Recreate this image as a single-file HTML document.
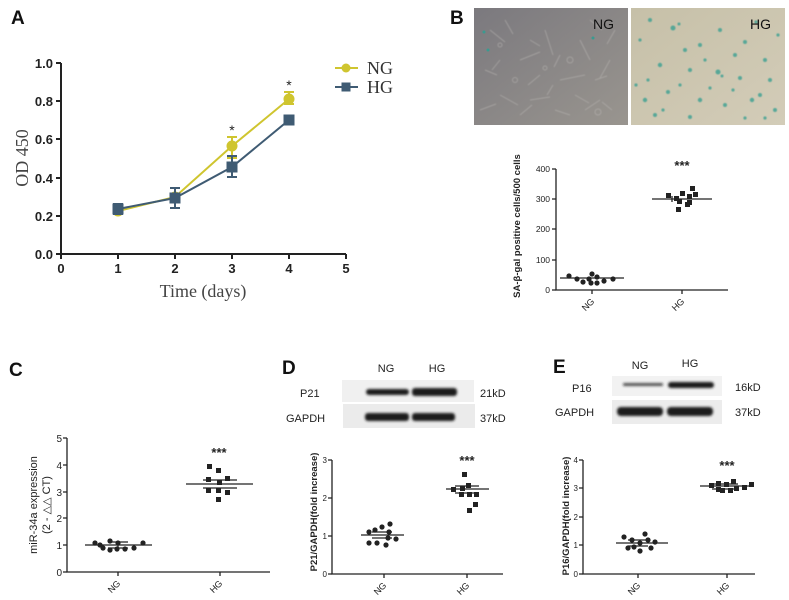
<!DOCTYPE html>
<html><head><meta charset="utf-8"><style>
html,body{margin:0;padding:0;background:#fff;}
svg{display:block;font-family:"Liberation Sans",Arial,sans-serif;}
</style></head><body>
<svg width="789" height="600" viewBox="0 0 789 600" xmlns="http://www.w3.org/2000/svg">
<defs>
<linearGradient id="ngbg" x1="0" y1="0" x2="1" y2="1"><stop offset="0" stop-color="#7b797e"/><stop offset="1" stop-color="#99958f"/></linearGradient>
<linearGradient id="hgbg" x1="0" y1="0" x2="1" y2="1"><stop offset="0" stop-color="#c6c0a8"/><stop offset="1" stop-color="#d3ccb8"/></linearGradient>
<filter id="bl"><feGaussianBlur stdDeviation="1.2"/></filter>
<filter id="bl2"><feGaussianBlur stdDeviation="0.6"/></filter>
</defs>

<g font-weight="bold" font-size="19" fill="#111">
<text x="11" y="24">A</text>
<text x="450" y="24">B</text>
<text x="9" y="376">C</text>
<text x="282" y="374">D</text>
<text x="553" y="373">E</text>
</g>

<!-- ===== Panel A ===== -->
<g stroke="#222" stroke-width="2" fill="none">
<path d="M61,63 V254 H346"/>
<path d="M56,63H61M56,101H61M56,139H61M56,178H61M56,216H61M56,254H61"/>
<path d="M61,254v5M118,254v5M175,254v5M232,254v5M289,254v5M346,254v5"/>
</g>
<g font-size="13" font-weight="bold" fill="#222" text-anchor="end">
<text x="53" y="68">1.0</text><text x="53" y="106">0.8</text><text x="53" y="144">0.6</text>
<text x="53" y="183">0.4</text><text x="53" y="221">0.2</text><text x="53" y="259">0.0</text>
</g>
<g font-size="13" font-weight="bold" fill="#222" text-anchor="middle">
<text x="61" y="273">0</text><text x="118" y="273">1</text><text x="175" y="273">2</text>
<text x="232" y="273">3</text><text x="289" y="273">4</text><text x="346" y="273">5</text>
</g>
<text x="203" y="297" font-family="Liberation Serif,serif" font-size="18" fill="#444" text-anchor="middle">Time (days)</text>
<text transform="translate(28,158) rotate(-90)" font-family="Liberation Serif,serif" font-size="18" fill="#444" text-anchor="middle">OD 450</text>
<g stroke="#cfc52f" stroke-width="2" fill="#cfc52f">
<polyline fill="none" points="118,211 175,197 232,146 289,99"/>
<path d="M232,137V158M227,137h10M227,158h10M289,92V104M284,92h10M284,104h10" fill="none"/>
<circle cx="118" cy="211" r="4.5"/><circle cx="175" cy="197" r="4.5"/><circle cx="232" cy="146" r="4.5"/><circle cx="289" cy="99" r="4.5"/>
</g>
<g stroke="#3f5b73" stroke-width="2" fill="#3f5b73">
<polyline fill="none" points="118,209 175,198 232,167 289,120"/>
<path d="M118,204V214M113,204h10M113,214h10M175,188V208M170,188h10M170,208h10M232,156V177M227,156h10M227,177h10" fill="none"/>
<rect x="113.5" y="204.5" width="9" height="9"/><rect x="170.5" y="193.5" width="9" height="9"/><rect x="227.5" y="162.5" width="9" height="9"/><rect x="284.5" y="115.5" width="9" height="9"/>
</g>
<text x="232" y="135" font-size="14" text-anchor="middle" fill="#222">*</text>
<text x="289" y="90" font-size="14" text-anchor="middle" fill="#222">*</text>
<g stroke-width="2"><line x1="335" y1="68" x2="358" y2="68" stroke="#cfc52f"/><circle cx="346" cy="68" r="4.5" fill="#cfc52f"/>
<line x1="335" y1="87" x2="358" y2="87" stroke="#3f5b73"/><rect x="341.5" y="82.5" width="9" height="9" fill="#3f5b73"/></g>
<g font-family="Liberation Serif,serif" font-size="18" fill="#333"><text x="367" y="74">NG</text><text x="367" y="93">HG</text></g>

<!-- ===== Panel B images ===== -->
<rect x="474" y="8" width="154" height="117" fill="url(#ngbg)"/>
<g stroke="#b8b5b2" stroke-width="1" opacity="0.55" fill="none" filter="url(#bl2)">
<path d="M490,30l15,12M520,60l20,-8M545,30l8,25M560,80l25,-5M500,95l18,10M580,40l10,20M600,100l-15,10M485,70l12,5M530,100l20,-3M610,60l-10,18M555,110l15,5M590,20l12,10M505,20l8,14M540,75l-12,10M575,95l14,8M615,30l-8,14M480,110l16,-6M520,115l12,-10M595,80l12,-4M530,40l10,6M560,55l-6,12M500,60l-8,10M612,110l-10,-8M547,95l6,-10"/>
<circle cx="570" cy="60" r="3"/><circle cx="515" cy="80" r="2.5"/><circle cx="598" cy="112" r="3"/><circle cx="500" cy="45" r="2"/><circle cx="545" cy="68" r="2"/>
</g>
<circle cx="484" cy="32" r="1.5" fill="#3a9a90"/><circle cx="593" cy="38" r="1.5" fill="#3a9a90"/><circle cx="488" cy="50" r="1.5" fill="#3a9a90"/>
<text x="593" y="29" font-size="14" fill="#111">NG</text>
<rect x="631" y="8" width="154" height="117" fill="url(#hgbg)"/>
<g fill="#3aa092" opacity="0.8" filter="url(#bl2)">
<circle cx="650" cy="20" r="2"/><circle cx="673" cy="28" r="2.5"/><circle cx="679" cy="24" r="1.5"/><circle cx="700" cy="45" r="2"/><circle cx="720" cy="30" r="2"/><circle cx="745" cy="42" r="2"/><circle cx="765" cy="60" r="2"/>
<circle cx="660" cy="65" r="2.2"/><circle cx="690" cy="70" r="2"/><circle cx="718" cy="72" r="2.5"/><circle cx="722" cy="76" r="1.5"/><circle cx="740" cy="78" r="2"/><circle cx="770" cy="80" r="2"/>
<circle cx="645" cy="100" r="2.2"/><circle cx="668" cy="92" r="2"/><circle cx="700" cy="100" r="2.2"/><circle cx="725" cy="105" r="2"/><circle cx="752" cy="100" r="2.2"/><circle cx="775" cy="110" r="2"/>
<circle cx="655" cy="115" r="2"/><circle cx="690" cy="117" r="2"/><circle cx="735" cy="55" r="2"/><circle cx="685" cy="50" r="2"/><circle cx="760" cy="95" r="2"/><circle cx="640" cy="40" r="1.6"/><circle cx="710" cy="88" r="1.6"/>
<circle cx="636" cy="85" r="1.6"/><circle cx="648" cy="80" r="1.6"/><circle cx="705" cy="60" r="1.6"/><circle cx="756" cy="22" r="1.6"/><circle cx="778" cy="35" r="1.6"/><circle cx="663" cy="110" r="1.6"/><circle cx="745" cy="118" r="1.6"/><circle cx="680" cy="85" r="1.6"/><circle cx="733" cy="90" r="1.6"/><circle cx="765" cy="118" r="1.6"/>
</g>
<text x="750" y="29" font-size="14" fill="#111">HG</text>

<!-- ===== Panel B chart ===== -->
<g stroke="#222" stroke-width="1.3" fill="none">
<path d="M556,169V290H728"/>
<path d="M552,169h4M552,199h4M552,229h4M552,260h4M552,290h4M592,290v4M682,290v4"/>
<path d="M560,278H624M652,199H712M672,196v6"/>
</g>
<g font-size="8.5" fill="#222" text-anchor="end">
<text x="550" y="172">400</text><text x="550" y="202">300</text><text x="550" y="232">200</text><text x="550" y="263">100</text><text x="550" y="293">0</text>
</g>
<text transform="translate(520,226) rotate(-90)" font-size="9.5" font-weight="bold" fill="#222" text-anchor="middle">SA-β-gal positive cells/500 cells</text>
<g font-size="9" fill="#222" text-anchor="end"><text transform="translate(595,302) rotate(-45)">NG</text><text transform="translate(685,302) rotate(-45)">HG</text></g>
<text x="682" y="170" font-size="13" font-weight="bold" text-anchor="middle" fill="#222">***</text>
<g fill="#222">
<circle cx="569" cy="276" r="2.6"/><circle cx="577" cy="279" r="2.6"/><circle cx="583" cy="282" r="2.6"/><circle cx="589" cy="279" r="2.6"/><circle cx="591" cy="283" r="2.6"/><circle cx="592" cy="274" r="2.6"/><circle cx="597" cy="283" r="2.6"/><circle cx="597" cy="277" r="2.6"/><circle cx="604" cy="281" r="2.6"/><circle cx="613" cy="279" r="2.6"/>
<rect x="666" y="193" width="5" height="5"/><rect x="674" y="196" width="5" height="5"/><rect x="680" y="191" width="5" height="5"/><rect x="687" y="194" width="5" height="5"/><rect x="690" y="186" width="5" height="5"/><rect x="693" y="192" width="5" height="5"/><rect x="677" y="199" width="5" height="5"/><rect x="685" y="202" width="5" height="5"/><rect x="676" y="207" width="5" height="5"/><rect x="687" y="200" width="5" height="5"/>
</g>

<!-- ===== Panel C ===== -->
<g stroke="#222" stroke-width="1.3" fill="none">
<path d="M67,438V572H270"/>
<path d="M63,438h4M63,465h4M63,492h4M63,518h4M63,545h4M63,572h4M118,572v4M220,572v4"/>
<path d="M85,545H152M108,542h20M108,548h20M118,542v6M186,484H253M203,480h34M203,488h34"/>
</g>
<g font-size="10" fill="#222" text-anchor="end">
<text x="62" y="442">5</text><text x="62" y="469">4</text><text x="62" y="496">3</text><text x="62" y="522">2</text><text x="62" y="549">1</text><text x="62" y="576">0</text>
</g>
<text transform="translate(37,505) rotate(-90)" font-size="11" fill="#222" text-anchor="middle">miR-34a expression</text>
<text transform="translate(50,505) rotate(-90)" font-size="11" fill="#222" text-anchor="middle">(2 - △△ CT)</text>
<g font-size="9" fill="#222" text-anchor="end"><text transform="translate(121,584) rotate(-45)">NG</text><text transform="translate(223,584) rotate(-45)">HG</text></g>
<text x="219" y="457" font-size="13" font-weight="bold" text-anchor="middle" fill="#222">***</text>
<g fill="#222">
<circle cx="95" cy="543" r="2.6"/><circle cx="103" cy="548" r="2.6"/><circle cx="110" cy="541" r="2.6"/><circle cx="110" cy="550" r="2.6"/><circle cx="117" cy="549" r="2.6"/><circle cx="118" cy="543" r="2.6"/><circle cx="125" cy="549" r="2.6"/><circle cx="134" cy="548" r="2.6"/><circle cx="143" cy="543" r="2.6"/><circle cx="100" cy="545" r="2.6"/>
<rect x="207" y="464" width="5" height="5"/><rect x="216" y="468" width="5" height="5"/><rect x="225" y="476" width="5" height="5"/><rect x="206" y="477" width="5" height="5"/><rect x="217" y="480" width="5" height="5"/><rect x="206" y="488" width="5" height="5"/><rect x="216" y="488" width="5" height="5"/><rect x="225" y="490" width="5" height="5"/><rect x="216" y="497" width="5" height="5"/>
</g>

<!-- ===== Panel D blots ===== -->
<text x="386" y="372" font-size="11" fill="#222" text-anchor="middle">NG</text>
<text x="437" y="372" font-size="11" fill="#222" text-anchor="middle">HG</text>
<rect x="342" y="380" width="132" height="22" fill="#f0f0f0"/>
<rect x="343" y="404" width="132" height="24" fill="#ebebeb"/>
<g filter="url(#bl)" fill="#1a1a1a">
<rect x="366" y="389" width="43" height="6" rx="3"/><rect x="412" y="388" width="45" height="8" rx="3"/>
<rect x="365" y="413" width="44" height="8" rx="3"/><rect x="412" y="413" width="43" height="8" rx="3"/>
</g>
<g font-size="11" fill="#222"><text x="300" y="397">P21</text><text x="286" y="422">GAPDH</text><text x="480" y="397">21kD</text><text x="480" y="422">37kD</text></g>

<g stroke="#222" stroke-width="1.3" fill="none">
<path d="M332,460V574H503"/>
<path d="M328,460h4M328,498h4M328,536h4M328,574h4M384,574v4M467,574v4"/>
<path d="M361,535H404M372,532h20M372,538h20M446,489H489M455,486h24M455,493h24"/>
</g>
<g font-size="8" fill="#222" text-anchor="end"><text x="327" y="463">3</text><text x="327" y="501">2</text><text x="327" y="539">1</text><text x="327" y="577">0</text></g>
<text transform="translate(317,512) rotate(-90)" font-size="9.5" font-weight="bold" fill="#222" text-anchor="middle">P21/GAPDH(fold increase)</text>
<g font-size="9" fill="#222" text-anchor="end"><text transform="translate(387,586) rotate(-45)">NG</text><text transform="translate(470,586) rotate(-45)">HG</text></g>
<text x="467" y="465" font-size="13" font-weight="bold" text-anchor="middle" fill="#222">***</text>
<g fill="#222">
<circle cx="369" cy="532" r="2.6"/><circle cx="369" cy="543" r="2.6"/><circle cx="375" cy="530" r="2.6"/><circle cx="377" cy="543" r="2.6"/><circle cx="382" cy="527" r="2.6"/><circle cx="386" cy="545" r="2.6"/><circle cx="390" cy="524" r="2.6"/><circle cx="389" cy="532" r="2.6"/><circle cx="388" cy="538" r="2.6"/><circle cx="396" cy="539" r="2.6"/>
<rect x="451" y="487" width="5" height="5"/><rect x="460" y="486" width="5" height="5"/><rect x="466" y="483" width="5" height="5"/><rect x="462" y="472" width="5" height="5"/><rect x="459" y="492" width="5" height="5"/><rect x="467" y="492" width="5" height="5"/><rect x="474" y="492" width="5" height="5"/><rect x="467" y="508" width="5" height="5"/><rect x="473" y="502" width="5" height="5"/>
</g>

<!-- ===== Panel E blots ===== -->
<text x="640" y="369" font-size="11" fill="#222" text-anchor="middle">NG</text>
<text x="690" y="367" font-size="11" fill="#222" text-anchor="middle">HG</text>
<rect x="612" y="376" width="110" height="20" fill="#f2f2f2"/>
<rect x="612" y="400" width="110" height="24" fill="#ececec"/>
<g filter="url(#bl)" fill="#1a1a1a">
<rect x="623" y="383" width="40" height="3" rx="1.5" opacity="0.75"/><rect x="668" y="382" width="46" height="6" rx="3"/>
<rect x="617" y="407" width="46" height="9" rx="4"/><rect x="667" y="407" width="46" height="9" rx="4"/>
</g>
<g font-size="11" fill="#222"><text x="572" y="392">P16</text><text x="555" y="416">GAPDH</text><text x="735" y="391">16kD</text><text x="735" y="416">37kD</text></g>

<g stroke="#222" stroke-width="1.3" fill="none">
<path d="M583,460V574H755"/>
<path d="M579,460h4M579,488h4M579,517h4M579,545h4M579,574h4M638,574v4M727,574v4"/>
<path d="M616,543H668M628,540h20M628,546h20M700,486H753M712,484h26M712,489h26"/>
</g>
<g font-size="8" fill="#222" text-anchor="end"><text x="578" y="463">4</text><text x="578" y="491">3</text><text x="578" y="520">2</text><text x="578" y="548">1</text><text x="578" y="577">0</text></g>
<text transform="translate(569,516) rotate(-90)" font-size="9.5" font-weight="bold" fill="#222" text-anchor="middle">P16/GAPDH(fold increase)</text>
<g font-size="9" fill="#222" text-anchor="end"><text transform="translate(641,586) rotate(-45)">NG</text><text transform="translate(730,586) rotate(-45)">HG</text></g>
<text x="727" y="470" font-size="13" font-weight="bold" text-anchor="middle" fill="#222">***</text>
<g fill="#222">
<circle cx="624" cy="537" r="2.6"/><circle cx="632" cy="540" r="2.6"/><circle cx="634" cy="547" r="2.6"/><circle cx="640" cy="543" r="2.6"/><circle cx="640" cy="551" r="2.6"/><circle cx="645" cy="534" r="2.6"/><circle cx="648" cy="540" r="2.6"/><circle cx="651" cy="548" r="2.6"/><circle cx="655" cy="542" r="2.6"/><circle cx="628" cy="548" r="2.6"/>
<rect x="709" y="483" width="5" height="5"/><rect x="716" y="481" width="5" height="5"/><rect x="720" y="488" width="5" height="5"/><rect x="724" y="482" width="5" height="5"/><rect x="728" y="488" width="5" height="5"/><rect x="731" y="479" width="5" height="5"/><rect x="734" y="486" width="5" height="5"/><rect x="742" y="485" width="5" height="5"/><rect x="749" y="482" width="5" height="5"/><rect x="716" y="487" width="5" height="5"/>
</g>
</svg>
</body></html>
